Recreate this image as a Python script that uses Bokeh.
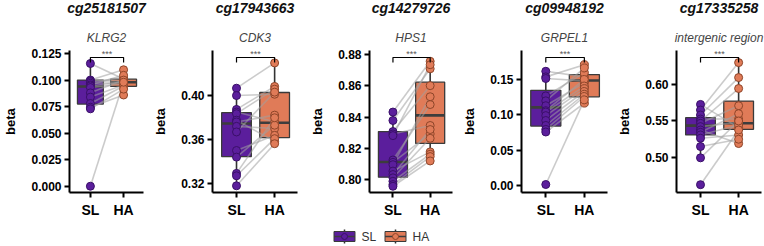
from bokeh.plotting import figure
from bokeh.models import Title, FixedTicker, Range1d
from bokeh.layouts import column, row
from bokeh.embed import file_html
from bokeh.resources import INLINE
from bokeh.core.properties import value

# ---------------- data ----------------
groups = ["SL", "HA"]
probes = ["cg25181507", "cg17943663", "cg14279726", "cg09948192", "cg17335258"]
genes = ["KLRG2", "CDK3", "HPS1", "GRPEL1", "intergenic region"]
signif = ["***", "***", "***", "***", "***"]

# paired beta values (same subject order in SL and HA)
sl1 = [0.1156, 0.1000, 0.0995, 0.0985, 0.0970, 0.0955, 0.0945, 0.0930, 0.0880, 0.0840, 0.0780, 0.0745, 0.0730, 0.0003]
ha1 = [0.1010, 0.1097, 0.0990, 0.1020, 0.0975, 0.1045, 0.0985, 0.0965, 0.1000, 0.0955, 0.0945, 0.0860, 0.0915, 0.0980]
sl2 = [0.4067, 0.4000, 0.3874, 0.3850, 0.3835, 0.3776, 0.3760, 0.3720, 0.3669, 0.3500, 0.3440, 0.3292, 0.3270, 0.3179]
ha2 = [0.4297, 0.4012, 0.4083, 0.3761, 0.4058, 0.3583, 0.3822, 0.3700, 0.4031, 0.3638, 0.3730, 0.3798, 0.3608, 0.3562]
sl3 = [0.8432, 0.8378, 0.8307, 0.8292, 0.8281, 0.8125, 0.8110, 0.8095, 0.8054, 0.8032, 0.8011, 0.7989, 0.7968, 0.7957]
ha3 = [0.8757, 0.8709, 0.8601, 0.8346, 0.8735, 0.8480, 0.8292, 0.8530, 0.8177, 0.8320, 0.8264, 0.8162, 0.8147, 0.8119]
sl4 = [0.1616, 0.1537, 0.1514, 0.1268, 0.1198, 0.1129, 0.1059, 0.1040, 0.0989, 0.0920, 0.0850, 0.0794, 0.0757, 0.0014]
ha4 = [0.1537, 0.1709, 0.1480, 0.1593, 0.1663, 0.1454, 0.1500, 0.1407, 0.1370, 0.1330, 0.1291, 0.1259, 0.1166, 0.1212]
sl5 = [0.5727, 0.5650, 0.5582, 0.5527, 0.5500, 0.5468, 0.5423, 0.5377, 0.5345, 0.5309, 0.5264, 0.5150, 0.4995, 0.4627]
ha5 = [0.5409, 0.6300, 0.6095, 0.5527, 0.5945, 0.5709, 0.5482, 0.5191, 0.5600, 0.5445, 0.5309, 0.5250, 0.5500, 0.5377]

# box statistics: [lower whisker, Q1, median, Q3, upper whisker]
box_sl1 = [0.0730, 0.0775, 0.0940, 0.1000, 0.1156]
box_ha1 = [0.0860, 0.0941, 0.0980, 0.1009, 0.1097]
box_sl2 = [0.3179, 0.3445, 0.3746, 0.3844, 0.4067]
box_ha2 = [0.3562, 0.3617, 0.3752, 0.4028, 0.4297]
box_sl3 = [0.7957, 0.8015, 0.8112, 0.8307, 0.8432]
box_ha3 = [0.8119, 0.8231, 0.8411, 0.8623, 0.8757]
box_sl4 = [0.0757, 0.0841, 0.1105, 0.1347, 0.1616]
box_ha4 = [0.1166, 0.1254, 0.1486, 0.1570, 0.1709]
box_sl5 = [0.4995, 0.5309, 0.5436, 0.5545, 0.5727]
box_ha5 = [0.5191, 0.5386, 0.5468, 0.5773, 0.6300]

# y axis ticks and labels
ticks1 = [0.000, 0.025, 0.050, 0.075, 0.100, 0.125]
labels1 = ["0.000", "0.025", "0.050", "0.075", "0.100", "0.125"]
ticks2 = [0.32, 0.36, 0.40]
labels2 = ["0.32", "0.36", "0.40"]
ticks3 = [0.80, 0.82, 0.84, 0.86, 0.88]
labels3 = ["0.80", "0.82", "0.84", "0.86", "0.88"]
ticks4 = [0.00, 0.05, 0.10, 0.15]
labels4 = ["0.00", "0.05", "0.10", "0.15"]
ticks5 = [0.50, 0.55, 0.60]
labels5 = ["0.50", "0.55", "0.60"]

# ---------------- style / layout ----------------
FONT = "Liberation Sans"
SL_FILL = "#5B1E9C"
SL_LINE = "#3A1068"
HA_FILL = "#E07B58"
HA_LINE = "#8E4529"
BOX_LINE = "#3a3a3a"

panels = [
    dict(sl=sl1, ha=ha1, bsl=box_sl1, bha=box_ha1, ticks=ticks1, labels=labels1, yr=(-0.0056, 0.1278),
         width=150, left=64, right=7),
    dict(sl=sl2, ha=ha2, bsl=box_sl2, bha=box_ha2, ticks=ticks2, labels=labels2, yr=(0.3118, 0.441),
         width=153, left=62, right=6),
    dict(sl=sl3, ha=ha3, bsl=box_sl3, bha=box_ha3, ticks=ticks3, labels=labels3, yr=(0.7917, 0.8826),
         width=155, left=66, right=6),
    dict(sl=sl4, ha=ha4, bsl=box_sl4, bha=box_ha4, ticks=ticks4, labels=labels4, yr=(-0.0099, 0.191),
         width=155, left=63, right=6),
    dict(sl=sl5, ha=ha5, bsl=box_sl5, bha=box_ha5, ticks=ticks5, labels=labels5, yr=(0.452, 0.6466),
         width=151, left=63, right=3),
]

SHIFT = 12           # row is pulled up by this many pixels (unused white space above titles)
TOP = 50 + SHIFT
BOTTOM = 33
HEIGHT = 225 + SHIFT
FRAME_H = HEIGHT - TOP - BOTTOM
XR = (0.37, 2.6)
xpos = [1, 2]
BOX_W = 0.78

figs = []
for i, pd_ in enumerate(panels):
    y0, y1 = pd_["yr"]
    px = (y1 - y0) / FRAME_H
    p = figure(width=pd_["width"], height=HEIGHT, x_range=Range1d(*XR), y_range=Range1d(y0, y1),
               output_backend="svg", toolbar_location=None, title=None,
               min_border_left=pd_["left"], min_border_right=pd_["right"],
               min_border_top=TOP, min_border_bottom=BOTTOM)
    p.outline_line_color = None
    p.xgrid.visible = False
    p.ygrid.visible = False
    p.background_fill_color = "white"
    p.border_fill_color = "white"

    p.add_layout(Title(text=genes[i], align="center", text_font=FONT, text_font_size="12px",
                       text_font_style="italic", text_color="#444444", standoff=12), "above")
    p.add_layout(Title(text=probes[i], align="center", text_font=FONT, text_font_size="14px",
                       text_font_style="bold italic", text_color="#111111", standoff=13), "above")

    # axes
    for ax in (p.xaxis[0], p.yaxis[0]):
        ax.axis_line_width = 2
        ax.axis_line_color = "black"
        ax.major_tick_line_width = 2
        ax.major_tick_line_color = "black"
        ax.major_tick_out = 5
        ax.major_tick_in = 0
        ax.minor_tick_line_color = None
        ax.major_label_text_font = FONT
        ax.major_label_text_font_style = "bold"
        ax.major_label_text_color = "black"
    p.yaxis.ticker = FixedTicker(ticks=pd_["ticks"])
    p.yaxis.major_label_overrides = {t: l for t, l in zip(pd_["ticks"], pd_["labels"])}
    p.yaxis.major_label_text_font_size = "12px"
    p.yaxis.major_label_standoff = 3
    p.yaxis.axis_label = "beta"
    p.yaxis.axis_label_text_font = FONT
    p.yaxis.axis_label_text_font_size = "13px"
    p.yaxis.axis_label_text_font_style = "bold"
    p.yaxis.axis_label_text_color = "black"
    p.yaxis.axis_label_standoff = 10
    p.xaxis.ticker = FixedTicker(ticks=xpos)
    p.xaxis.major_label_overrides = {1: groups[0], 2: groups[1]}
    p.xaxis.major_label_text_font_size = "14px"
    p.xaxis.major_label_standoff = 4

    # boxes + whiskers
    for x, b, fill in ((xpos[0], pd_["bsl"], SL_FILL), (xpos[1], pd_["bha"], HA_FILL)):
        lo, q1, med, q3, hi = b
        p.segment(x0=[x, x], y0=[lo, q3], x1=[x, x], y1=[q1, hi], line_color="#333333", line_width=1.6)
        p.quad(left=[x - BOX_W / 2], right=[x + BOX_W / 2], bottom=[q1], top=[q3],
               fill_color=fill, line_color=BOX_LINE, line_width=1.3)
        p.segment(x0=[x - BOX_W / 2], x1=[x + BOX_W / 2], y0=[med], y1=[med],
                  line_color="#3d3d3d", line_width=2.6)

    # paired lines
    n = len(pd_["sl"])
    p.segment(x0=[xpos[0]] * n, y0=pd_["sl"], x1=[xpos[1]] * n, y1=pd_["ha"],
              line_color="#a0a0a0", line_alpha=0.55, line_width=1.6)

    # points
    p.scatter(x=[xpos[0]] * n, y=pd_["sl"], size=8, fill_color=SL_FILL, line_color=SL_LINE, line_width=1)
    p.scatter(x=[xpos[1]] * n, y=pd_["ha"], size=8, fill_color=HA_FILL, line_color=HA_LINE, line_width=1)

    # significance bracket (a few pixels below the frame top)
    by = y1 - 7 * px
    bt = y1 - 12 * px
    p.line(x=[xpos[0], xpos[0], xpos[1], xpos[1]], y=[bt, by, by, bt], line_color="black", line_width=1.2)
    p.text(x=[(xpos[0] + xpos[1]) / 2], y=[by], text=[signif[i]], text_font=value(FONT),
           text_font_size="9px", text_color="#555555", text_align="center", text_baseline="bottom",
           y_offset=1)
    figs.append(p)

# ---------------- legend strip ----------------
leg = figure(width=764, height=21, x_range=Range1d(0, 764), y_range=Range1d(0, 21),
             output_backend="svg", toolbar_location=None, min_border=0)
leg.axis.visible = False
leg.grid.visible = False
leg.outline_line_color = None
lx = [344, 395]
ly = 10
for x, fill, pl, name in ((lx[0], SL_FILL, SL_LINE, groups[0]), (lx[1], HA_FILL, HA_LINE, groups[1])):
    leg.segment(x0=[x], x1=[x], y0=[ly - 7], y1=[ly + 7], line_color="#333333", line_width=1.5)
    leg.rect(x=[x], y=[ly], width=21, height=10, fill_color=fill, line_color=BOX_LINE, line_width=1)
    leg.segment(x0=[x - 10.5], x1=[x + 10.5], y0=[ly], y1=[ly], line_color="#3d3d3d", line_width=1.5)
    leg.scatter(x=[x], y=[ly], size=6, fill_color=fill, line_color=pl, line_width=1)
    leg.text(x=[x + 17], y=[ly], text=[name], text_font=value(FONT), text_font_size="12px",
             text_color="#333333", text_baseline="middle", text_align="left")

top_row = row(*figs, spacing=0, margin=(-SHIFT, 0, 0, 0))
layout = column(top_row, leg, spacing=0)
open("out.html", "w").write(file_html(layout, INLINE))
